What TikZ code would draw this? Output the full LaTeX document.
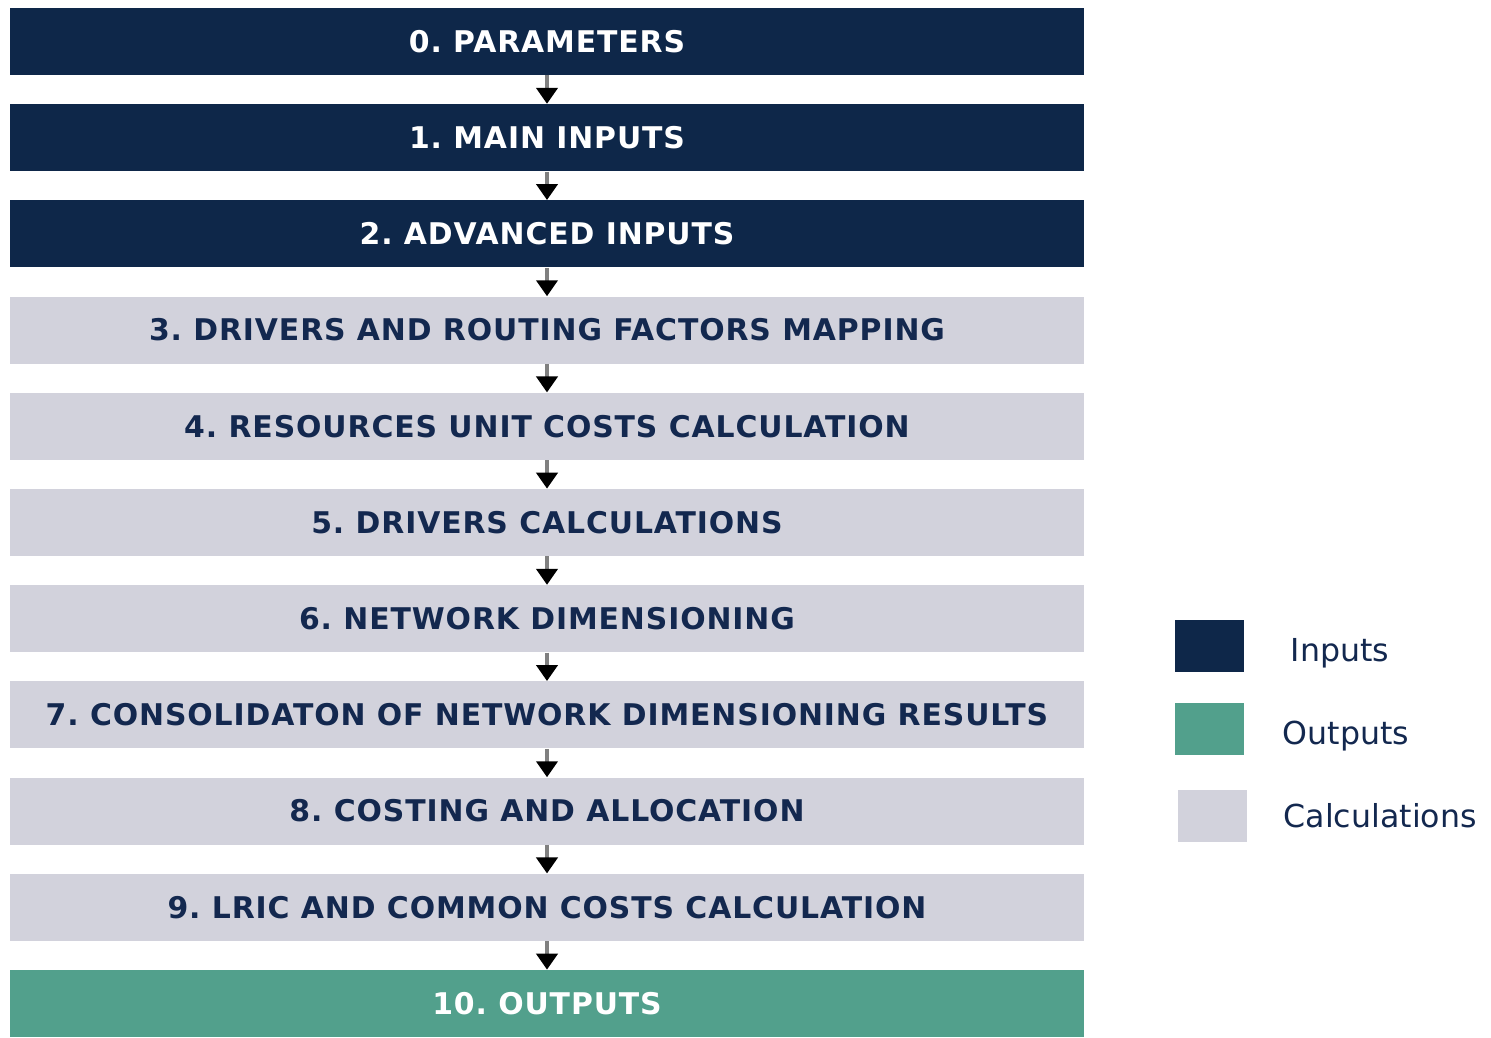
\documentclass[tikz,border=0pt]{standalone}
\usepackage{fontspec}
\setmainfont{DejaVu Sans}
\newfontfamily\stepfont[LetterSpace=3]{DejaVu Sans}
\usepackage{tikz}
\usetikzlibrary{positioning,arrows.meta}
\usepackage{xcolor}

\definecolor{inputblue}{HTML}{0E2749}
\definecolor{outputgreen}{HTML}{52A08C}
\definecolor{calcgrey}{HTML}{D2D2DC}
\definecolor{calctext}{HTML}{13284F}
\definecolor{shaftgrey}{HTML}{808080}

\tikzset{
	stepbox/.style={minimum width=21.48cm, minimum height=1.34cm, inner sep=0pt,
		font=\stepfont\fontsize{17}{20}\selectfont\bfseries\frenchspacing},
	inbox/.style={stepbox, fill=inputblue, text=white},
	calcbox/.style={stepbox, fill=calcgrey, text=calctext},
	outbox/.style={stepbox, fill=outputgreen, text=white},
	flow/.style={shaftgrey, line width=0.08cm, -{Triangle[width=0.42cm, length=0.32cm, black]}},
	legendkey/.style={minimum width=1.38cm, minimum height=1.04cm, inner sep=0pt},
	legendtext/.style={inner sep=0pt, font=\fontsize{18}{22}\selectfont, text=calctext}
}

\begin{document}
\begin{tikzpicture}
		\useasboundingbox (0,0) rectangle (29.82,-20.74);

		% Model steps
		\foreach \i/\kind/\name in {
			0/inbox/{0. PARAMETERS},
			1/inbox/{1. MAIN INPUTS},
			2/inbox/{2. ADVANCED INPUTS},
			3/calcbox/{3. DRIVERS AND ROUTING FACTORS MAPPING},
			4/calcbox/{4. RESOURCES UNIT COSTS CALCULATION},
			5/calcbox/{5. DRIVERS CALCULATIONS},
			6/calcbox/{6. NETWORK DIMENSIONING},
			7/calcbox/{7. CONSOLIDATON OF NETWORK DIMENSIONING RESULTS},
			8/calcbox/{8. COSTING AND ALLOCATION},
			9/calcbox/{9. LRIC AND COMMON COSTS CALCULATION},
			10/outbox/{10. OUTPUTS}
		} {
			\node[\kind] (s\i) at (10.94, {-0.83-1.924*\i}) {\name};
		}

		% Flow between steps
		\foreach \i [evaluate=\i as \j using int(\i+1)] in {0,...,9} {
			\draw[flow] (s\i.south) -- (s\j.north);
		}

		% Legend
		\node[legendkey, fill=inputblue] (kin) at (24.19,-12.92) {};
		\node[legendkey, fill=outputgreen] (kout) at (24.19,-14.58) {};
		\node[legendkey, fill=calcgrey] (kcalc) at (24.25,-16.32) {};
		\node[legendtext, right=0.92cm of kin, yshift=-0.14cm] (tin) {Inputs};
		\node[legendtext, right=0.76cm of kout, yshift=-0.14cm] (tout) {Outputs};
		\node[legendtext, right=0.72cm of kcalc] (tcalc) {Calculations};
	\end{tikzpicture}
\end{document}
